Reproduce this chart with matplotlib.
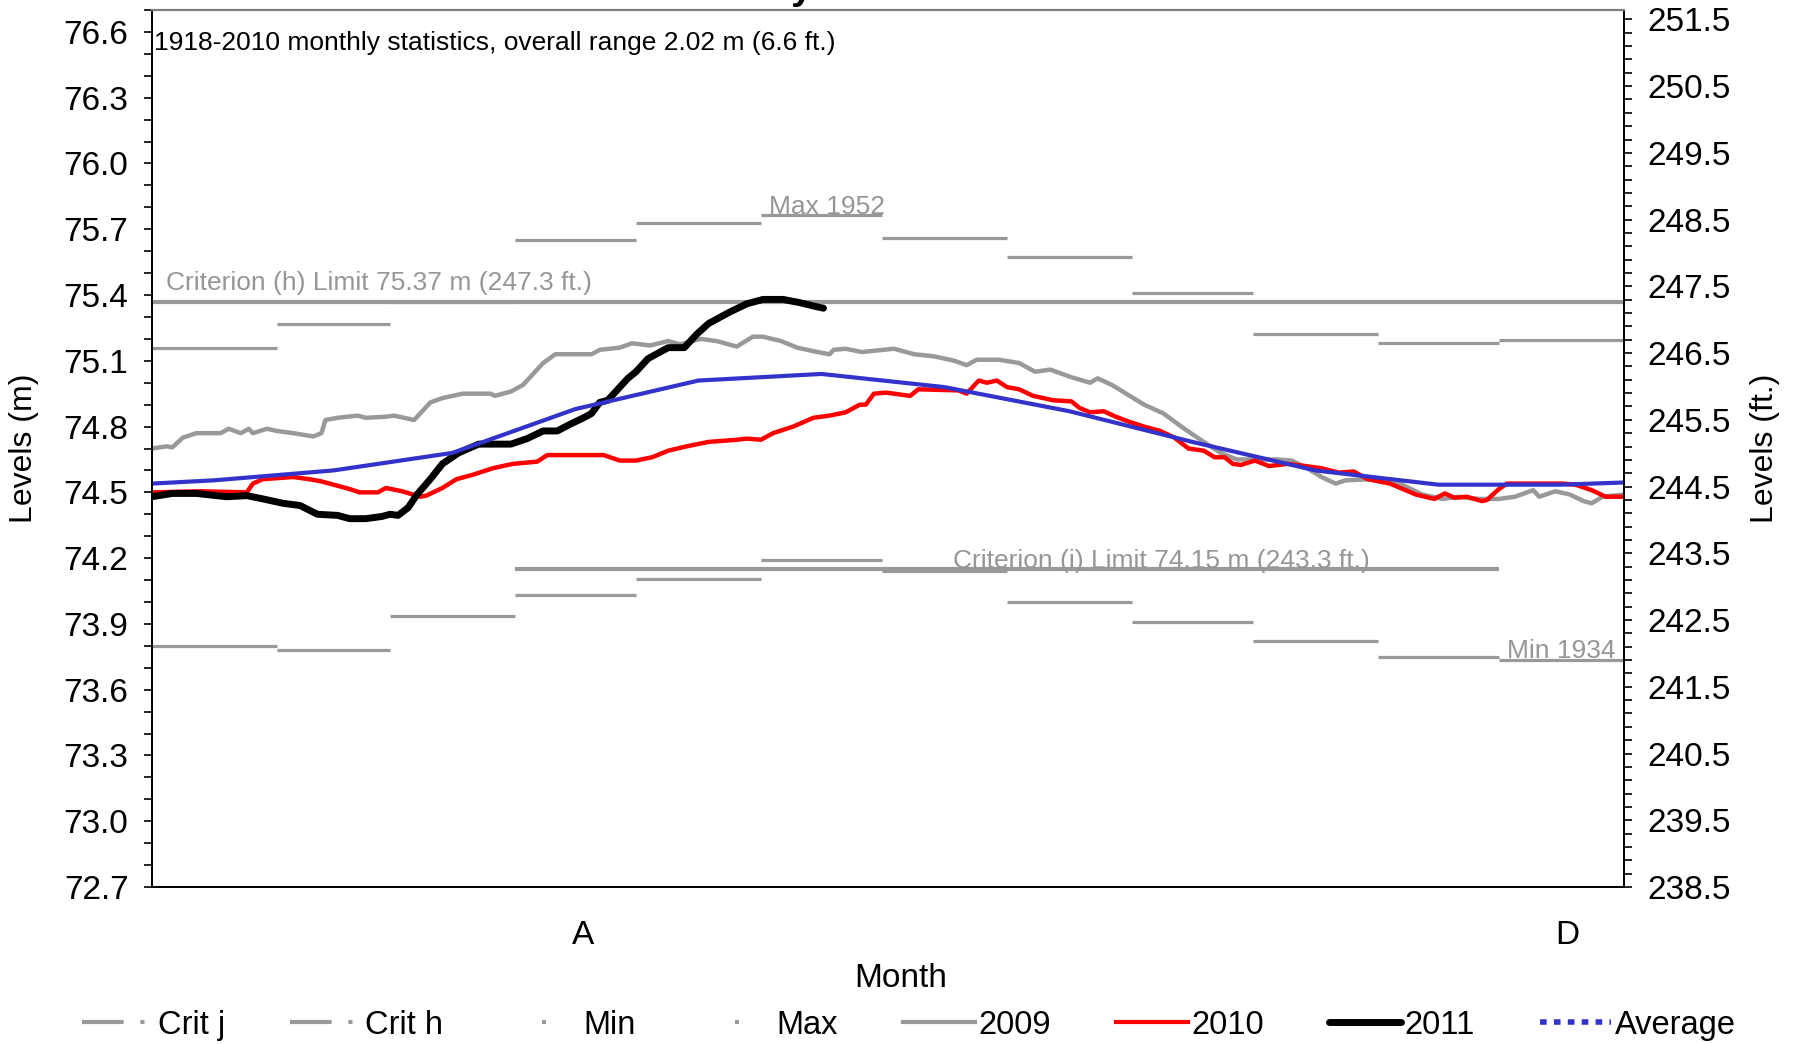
import matplotlib
matplotlib.use("Agg")
import matplotlib.pyplot as plt
import numpy as np
from matplotlib.lines import Line2D
from matplotlib.ticker import FixedLocator, MultipleLocator

plt.rcParams["font.family"] = ["Liberation Sans", "DejaVu Sans"]

M2FT = 3.28084
GRAY = "#999999"
TXT_GRAY = "#969696"

# monthly statistics 1918-2010 (m)
month_start = [0, 31, 59, 90, 120, 151, 181, 212, 243, 273, 304, 334]
month_end = [31, 59, 90, 120, 151, 181, 212, 243, 273, 304, 334, 365]
max_levels = [75.16, 75.27, 75.37, 75.65, 75.73, 75.765, 75.66, 75.575, 75.41, 75.22, 75.18, 75.195]
min_levels = [73.80, 73.78, 73.935, 74.03, 74.105, 74.19, 74.143, 74.00, 73.91, 73.82, 73.75, 73.735]

crit_h = 75.37
crit_j = 74.15
crit_j_days = [90, 334]

# long-term average, mid-month points
avg_days = [0, 15.5, 45, 74.5, 105, 135.5, 166, 196.5, 227.5, 258, 288.5, 319, 349.5, 365]
avg_levels = [74.54, 74.555, 74.60, 74.68, 74.88, 75.01, 75.04, 74.98, 74.87, 74.73, 74.60, 74.535, 74.535, 74.545]

# daily levels (day of year, m)
days_2009 = [0, 3.7, 5, 7.7, 11, 17, 19, 22, 24, 25, 28.5, 31, 35, 40, 42, 43, 46, 51, 53, 58,
             60, 65, 69, 72, 77, 84, 85, 89, 92, 94, 97, 100, 109, 111, 116, 119, 123.5, 128,
             131, 136, 140, 145, 149, 151.5, 156, 160, 165, 168, 169, 172, 176, 184, 189, 194,
             199, 202, 204.5, 210, 215, 219, 222.7, 228, 232.6, 234.5, 238, 240.7, 246, 250.8,
             256, 260, 265, 269, 279, 282.6, 286, 290, 293.5, 296, 302.5, 306, 310, 315, 320,
             324, 329, 334, 338, 342.5, 344, 348, 351.6, 355, 357, 359.7, 365]
lev_2009 = [74.70, 74.71, 74.705, 74.75, 74.77, 74.77, 74.79, 74.77, 74.79, 74.77, 74.79, 74.78,
            74.77, 74.755, 74.77, 74.83, 74.84, 74.85, 74.84, 74.845, 74.85, 74.83, 74.91, 74.93,
            74.95, 74.95, 74.94, 74.96, 74.99, 75.03, 75.09, 75.13, 75.13, 75.15, 75.16, 75.18,
            75.17, 75.19, 75.175, 75.20, 75.19, 75.165, 75.21, 75.21, 75.19, 75.16, 75.14, 75.13,
            75.15, 75.155, 75.14, 75.155, 75.13, 75.12, 75.10, 75.08, 75.105, 75.105, 75.09,
            75.05, 75.06, 75.025, 75.00, 75.02, 74.99, 74.96, 74.90, 74.86, 74.79, 74.74, 74.68,
            74.65, 74.65, 74.645, 74.615, 74.57, 74.54, 74.555, 74.56, 74.545, 74.535, 74.49,
            74.47, 74.48, 74.47, 74.47, 74.48, 74.51, 74.48, 74.505, 74.49, 74.46, 74.45, 74.48,
            74.49]

days_2010 = [0, 12, 23.5, 25, 27.5, 35, 39, 42, 46, 49, 51.5, 56, 58, 62, 66.5, 68, 72, 75.5,
             79.5, 84.5, 89.5, 95.5, 98, 112, 116, 120, 124, 128, 132.6, 138, 145, 147.5, 151,
             154, 159, 164, 168, 172, 175.5, 177, 179, 182, 188, 190, 200, 202, 205, 207, 209.5,
             212, 215, 218.5, 223.5, 228, 230, 232.6, 236, 239, 242.6, 246, 250, 253.5, 257,
             260.8, 263.5, 266, 268, 270, 273.5, 277, 281.7, 286, 290, 294.3, 298, 301.5, 307,
             313.4, 318, 320.6, 323, 326, 329.8, 331, 334, 336, 349.7, 353, 357, 360.5, 365]
lev_2010 = [74.50, 74.505, 74.50, 74.54, 74.56, 74.57, 74.56, 74.55, 74.53, 74.515, 74.50,
            74.50, 74.52, 74.505, 74.48, 74.485, 74.52, 74.56, 74.58, 74.61, 74.63, 74.64, 74.67,
            74.67, 74.645, 74.645, 74.66, 74.69, 74.71, 74.73, 74.74, 74.745, 74.74, 74.77, 74.80,
            74.84, 74.85, 74.865, 74.90, 74.90, 74.95, 74.955, 74.94, 74.97, 74.965, 74.95, 75.01,
            75.00, 75.01, 74.98, 74.97, 74.94, 74.92, 74.915, 74.885, 74.865, 74.87, 74.845,
            74.82, 74.80, 74.78, 74.75, 74.70, 74.69, 74.66, 74.66, 74.63, 74.625, 74.645, 74.62,
            74.63, 74.62, 74.61, 74.59, 74.595, 74.56, 74.54, 74.49, 74.47, 74.495, 74.475,
            74.48, 74.46, 74.465, 74.515, 74.54, 74.54, 74.535, 74.51, 74.48, 74.48]

days_2011 = [0, 5, 11, 18.5, 23.5, 27.5, 32.5, 36.7, 41, 46, 49, 53, 57, 59, 61, 63.5, 65.7, 69,
             72, 76, 81, 89, 93, 97, 100.5, 103.6, 107, 109, 111, 113, 117, 118, 120, 123, 128,
             132, 135, 138, 143, 147.5, 151.5, 156.5, 160.7, 164, 166.5]
lev_2011 = [74.48, 74.495, 74.495, 74.48, 74.485, 74.47, 74.45, 74.44, 74.40, 74.395, 74.38,
            74.38, 74.39, 74.40, 74.395, 74.43, 74.49, 74.56, 74.63, 74.68, 74.72, 74.72, 74.745,
            74.78, 74.78, 74.81, 74.84, 74.86, 74.91, 74.92, 75.00, 75.02, 75.05, 75.11, 75.16,
            75.16, 75.22, 75.27, 75.32, 75.36, 75.38, 75.38, 75.365, 75.35, 75.34]

month_tick_days = [107, 351]
month_tick_labels = ["A", "D"]

fig = plt.figure(figsize=(17.93, 10.44), dpi=100)
ax = fig.add_axes([0.0848, 0.1504, 0.8209, 0.8400])

# criteria and monthly extremes
ax.hlines(crit_h, 0, 365, colors=GRAY, lw=3, zorder=2)
ax.hlines(crit_j, crit_j_days[0], crit_j_days[1], colors=GRAY, lw=3, zorder=2)
ax.hlines(min_levels, month_start, month_end, colors=GRAY, lw=2.3, zorder=2)
ax.hlines(max_levels, month_start, month_end, colors=GRAY, lw=2.3, zorder=2)

ax.plot(days_2009, lev_2009, color=GRAY, lw=3.2, zorder=3)
ax.plot(days_2010, lev_2010, color="#ff0000", lw=3.2, zorder=4)
ax.plot(days_2011, lev_2011, color="black", lw=5, zorder=5, solid_capstyle="round")
ax.plot(avg_days, avg_levels, color="#3333cc", lw=3, zorder=6)

ax.set_xlim(0, 365)
ax.set_ylim(72.7, 76.7)
m_ticks = np.arange(72.7, 76.65, 0.3)
ax.set_yticks(m_ticks)
ax.set_yticklabels([f"{v:.1f}" for v in m_ticks])
ax.yaxis.set_minor_locator(MultipleLocator(0.1))
ax.tick_params(axis="y", which="both", direction="out", length=6, width=1.2, labelsize=24, pad=11)
ax.set_xticks(month_tick_days)
ax.set_xticklabels(month_tick_labels)
ax.tick_params(axis="x", length=0, labelsize=24, pad=24)
ax.set_ylabel("Levels (m)", fontsize=23)
ax.yaxis.set_label_coords(-0.077, 0.5)

ax2 = ax.twinx()
ax2.set_ylim(72.7 * M2FT, 76.7 * M2FT)
ft_ticks = np.arange(238.5, 251.6, 1.0)
ax2.set_yticks(ft_ticks)
ax2.set_yticklabels([f"{v:.1f}" for v in ft_ticks])
ax2.yaxis.set_minor_locator(FixedLocator(np.arange(238.5, 251.7, 0.2)))
ax2.tick_params(axis="y", which="both", direction="out", length=6, width=1.2, labelsize=24, pad=11)
ax2.set_ylabel("Levels (ft.)", fontsize=23)
ax2.yaxis.set_label_coords(1.0856, 0.5)

for a in (ax, ax2):
    for s in ("left", "right", "bottom"):
        a.spines[s].set_color("black")
        a.spines[s].set_linewidth(1.3)
    a.spines["top"].set_color("#808080")
    a.spines["top"].set_linewidth(1.5)

# annotations
ax.text(0.001, 0.962, "1918-2010 monthly statistics, overall range 2.02 m (6.6 ft.)",
        transform=ax.transAxes, fontsize=19, va="center", ha="left")
ax.text(3.4, crit_h + 0.03, "Criterion (h) Limit 75.37 m (247.3 ft.)",
        fontsize=19, color=TXT_GRAY, va="bottom", ha="left")
ax.text(198.5, crit_j + 0.005, "Criterion (i) Limit 74.15 m (243.3 ft.)",
        fontsize=19, color=TXT_GRAY, va="baseline", ha="left")
ax.text(153, max_levels[5] + 0.005, "Max 1952",
        fontsize=19, color=TXT_GRAY, va="baseline", ha="left")
ax.text(363, min_levels[11] + 0.01, "Min 1934",
        fontsize=19, color=TXT_GRAY, va="baseline", ha="right")

fig.text(0.5025, 0.0623, "Month", fontsize=24, ha="center", va="center")
fig.text(0.395, 1.001, "Lake Ontario Daily Levels", fontsize=28, fontweight="bold",
         ha="center", va="baseline")

handles = [
    Line2D([], [], color=GRAY, lw=3, dashes=(10, 4, 1, 4)),
    Line2D([], [], color=GRAY, lw=3, dashes=(10, 4, 1, 4)),
    Line2D([], [], color=GRAY, ls="none", marker="s", ms=2.5, markeredgewidth=0),
    Line2D([], [], color=GRAY, ls="none", marker="s", ms=2.5, markeredgewidth=0),
    Line2D([], [], color=GRAY, lw=3),
    Line2D([], [], color="#ff0000", lw=3),
    Line2D([], [], color="black", lw=5, solid_capstyle="round"),
    Line2D([], [], color="#3333cc", lw=4, dashes=(1.2, 1.3)),
]
labels = ["Crit j", "Crit h", "Min", "Max", "2009", "2010", "2011", "Average"]
fig.legend(handles, labels, loc="center", bbox_to_anchor=(0.507, 0.018), ncol=8,
           frameon=False, fontsize=23.5, handlelength=2.2, handletextpad=0.1,
           columnspacing=2.0, numpoints=1)

fig.savefig("out.png", dpi=100)
